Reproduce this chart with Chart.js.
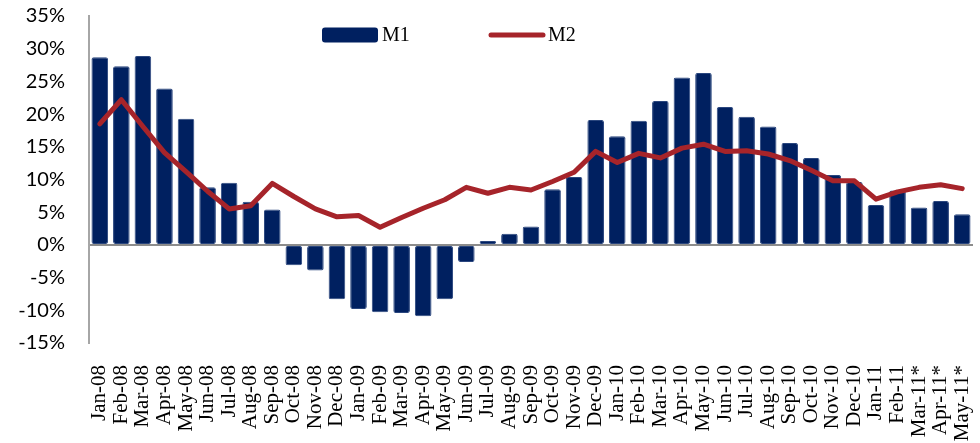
<!DOCTYPE html>
<html>
<head>
<meta charset="utf-8">
<script src="https://cdn.jsdelivr.net/npm/chart.js@4.4.1/dist/chart.umd.min.js"></script>
<style>
  html, body { margin: 0; padding: 0; background: #fff; }
  #wrap { width: 980px; height: 443px; }
</style>
</head>
<body>
<div id="wrap"><canvas id="moneyChart" width="980" height="443"></canvas></div>
<script>
// Datos (variación anual, %)
const months = [
  'Jan-08', 'Feb-08', 'Mar-08', 'Apr-08', 'May-08', 'Jun-08', 'Jul-08', 'Aug-08', 'Sep-08', 'Oct-08', 'Nov-08', 'Dec-08',
  'Jan-09', 'Feb-09', 'Mar-09', 'Apr-09', 'May-09', 'Jun-09', 'Jul-09', 'Aug-09', 'Sep-09', 'Oct-09', 'Nov-09', 'Dec-09',
  'Jan-10', 'Feb-10', 'Mar-10', 'Apr-10', 'May-10', 'Jun-10', 'Jul-10', 'Aug-10', 'Sep-10', 'Oct-10', 'Nov-10', 'Dec-10',
  'Jan-11', 'Feb-11', 'Mar-11*', 'Apr-11*', 'May-11*'
];
const m1Values = [
  28.7, 27.3, 28.9, 23.9, 19.3, 8.8, 9.5, 6.6, 5.4, -3.1, -3.9, -8.3,
  -9.8, -10.3, -10.4, -10.9, -8.3, -2.6, 0.6, 1.7, 2.8, 8.5, 10.4, 19.1,
  16.6, 19.0, 22.0, 25.6, 26.3, 21.1, 19.6, 18.1, 15.6, 13.3, 10.7, 9.6,
  6.1, 8.3, 5.7, 6.7, 4.7
];
const m2Values = [
  18.5, 22.2, 18.1, 14.1, 11.2, 8.2, 5.5, 6.0, 9.4, 7.4, 5.5, 4.3,
  4.5, 2.7, 4.2, 5.6, 6.9, 8.8, 7.9, 8.8, 8.4, 9.7, 11.1, 14.3,
  12.6, 14.0, 13.3, 14.8, 15.4, 14.3, 14.4, 13.9, 12.9, 11.4, 9.8, 9.8,
  7.0, 8.1, 8.8, 9.2, 8.6
];
const seriesNames = ['M1', 'M2'];
const yMin = -15;
const yMax = 35;
const yStep = 5;

const navy = '#002060';
const red = '#A6242A';

// Leyenda dibujada a mano (cuadro para M1, línea para M2)
const legendPlugin = {
  id: 'topLegend',
  afterDatasetsDraw(chart) {
    const ctx = chart.ctx;
    const ds = chart.data.datasets;
    ctx.save();
    // M1
    ctx.fillStyle = ds[0].backgroundColor;
    ctx.beginPath();
    if (ctx.roundRect) ctx.roundRect(322, 27.5, 56, 15, 3); else ctx.rect(322, 27.5, 56, 15);
    ctx.fill();
    // M2
    ctx.strokeStyle = ds[1].borderColor;
    ctx.lineWidth = 5;
    ctx.lineCap = 'round';
    ctx.beginPath();
    ctx.moveTo(491, 35);
    ctx.lineTo(543, 35);
    ctx.stroke();
    ctx.fillStyle = '#000';
    ctx.font = '20px "Liberation Serif"';
    ctx.textBaseline = 'middle';
    ctx.fillText(ds[0].label, 382, 35.5);
    ctx.fillText(ds[1].label, 548, 35.5);
    ctx.restore();
  }
};

const ctx = document.getElementById('moneyChart').getContext('2d');
new Chart(ctx, {
  data: {
    labels: months,
    datasets: [
      {
        type: 'bar',
        label: seriesNames[0],
        data: m1Values,
        backgroundColor: navy,
        borderColor: '#2a467e',
        borderWidth: 1,
        borderRadius: 2,
        borderSkipped: false,
        barPercentage: 0.77,
        categoryPercentage: 1,
        order: 2
      },
      {
        type: 'line',
        label: seriesNames[1],
        data: m2Values,
        borderColor: red,
        backgroundColor: red,
        borderWidth: 5,
        borderJoinStyle: 'round',
        borderCapStyle: 'round',
        pointRadius: 0,
        tension: 0,
        order: 1
      }
    ]
  },
  options: {
    responsive: false,
    animation: false,
    layout: { padding: { top: 16, right: 7, left: 0, bottom: 0 } },
    plugins: {
      legend: { display: false },
      tooltip: { enabled: false }
    },
    scales: {
      x: {
        grid: { display: false, drawTicks: false },
        border: { display: false },
        ticks: {
          autoSkip: false,
          maxRotation: 90,
          minRotation: 90,
          padding: 22,
          color: '#000',
          font: { family: '"Liberation Serif"', size: 21 }
        },
        afterFit(scale) {
          scale.height = 100;
          scale.paddingLeft = 0;
          scale.paddingRight = 0;
        }
      },
      y: {
        min: yMin,
        max: yMax,
        grid: {
          drawTicks: false,
          color: (c) => (c.tick && c.tick.value === 0 ? '#8c8c8c' : 'rgba(0,0,0,0)'),
          lineWidth: 2
        },
        border: { display: true, color: '#a6a6a6', width: 2 },
        ticks: {
          stepSize: yStep,
          padding: 24,
          color: '#000',
          font: { family: 'Lato', size: 20 },
          callback: (v) => v + '%'
        },
        afterFit(scale) {
          scale.width = 89;
          scale.paddingTop = 0;
          scale.paddingBottom = 0;
        }
      }
    }
  },
  plugins: [legendPlugin]
});
</script>
</body>
</html>
